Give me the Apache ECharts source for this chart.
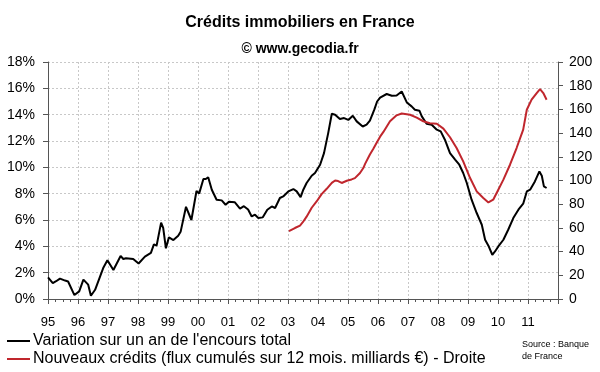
<!DOCTYPE html>
<html><head><meta charset="utf-8">
<script src="https://cdn.jsdelivr.net/npm/echarts@6/dist/echarts.min.js"></script>
<style>html,body{margin:0;padding:0;background:#fff}#c{width:600px;height:372px}</style>
</head><body><div id="c"></div>
<script>
var tickLabels = ['95','96','97','98','99','00','01','02','03','04','05','06','07','08','09','10','11'];
var blackDates = [1995.00,1995.16,1995.27,1995.40,1995.57,1995.67,1995.88,1996.04,1996.18,1996.34,1996.43,1996.57,1996.84,1996.98,1997.18,1997.42,1997.51,1997.60,1997.84,1998.02,1998.23,1998.43,1998.53,1998.62,1998.77,1998.84,1998.93,1999.03,1999.18,1999.34,1999.42,1999.60,1999.78,1999.95,2000.04,2000.18,2000.26,2000.34,2000.46,2000.62,2000.79,2000.92,2001.03,2001.23,2001.40,2001.53,2001.67,2001.79,2001.90,2002.01,2002.16,2002.31,2002.46,2002.57,2002.73,2002.84,2003.01,2003.18,2003.29,2003.42,2003.51,2003.62,2003.79,2003.90,2004.07,2004.20,2004.34,2004.46,2004.57,2004.73,2004.87,2005.01,2005.16,2005.29,2005.49,2005.62,2005.73,2005.88,2005.97,2006.07,2006.29,2006.46,2006.62,2006.79,2006.96,2007.12,2007.23,2007.38,2007.46,2007.62,2007.79,2007.96,2008.09,2008.23,2008.40,2008.57,2008.71,2008.84,2008.96,2009.12,2009.29,2009.46,2009.57,2009.68,2009.81,2009.90,2010.01,2010.18,2010.34,2010.51,2010.68,2010.84,2010.96,2011.07,2011.23,2011.38,2011.46,2011.53,2011.62];
var blackValues = [1.65,1.21,1.35,1.55,1.40,1.33,0.30,0.58,1.47,1.09,0.25,0.70,2.35,2.95,2.20,3.27,3.04,3.10,3.04,2.70,3.22,3.50,4.15,4.05,5.80,5.40,3.85,4.68,4.48,4.80,5.10,7.00,6.00,8.20,8.02,9.12,9.11,9.25,8.30,7.54,7.49,7.16,7.38,7.34,6.87,7.05,6.80,6.27,6.40,6.15,6.20,6.78,7.03,6.91,7.67,7.79,8.17,8.35,8.17,7.74,8.30,8.81,9.36,9.57,10.20,11.08,12.60,14.07,14.00,13.67,13.74,13.60,13.92,13.49,13.10,13.24,13.55,14.40,15.00,15.30,15.57,15.44,15.46,15.76,14.93,14.63,14.37,14.30,13.87,13.31,13.24,12.86,12.73,12.10,11.08,10.58,10.20,9.57,8.81,7.54,6.53,5.64,4.50,4.05,3.36,3.61,3.99,4.50,5.26,6.15,6.78,7.24,8.17,8.30,8.93,9.69,9.36,8.55,8.43];
var redDates = [2003.03,2003.23,2003.40,2003.50,2003.62,2003.79,2003.96,2004.12,2004.29,2004.46,2004.57,2004.67,2004.79,2004.96,2005.12,2005.23,2005.40,2005.51,2005.57,2005.73,2005.84,2005.96,2006.07,2006.18,2006.40,2006.62,2006.79,2006.85,2007.07,2007.29,2007.51,2007.73,2007.96,2008.18,2008.40,2008.62,2008.84,2009.07,2009.29,2009.51,2009.68,2009.84,2010.01,2010.18,2010.40,2010.62,2010.84,2010.96,2011.12,2011.29,2011.40,2011.51,2011.62];
var redValues = [57.3,59.9,62.0,65.0,69.5,77.0,82.5,88.5,93.0,98.0,100.0,99.5,97.9,99.8,100.9,102.0,106.3,110.5,114.0,122.0,126.5,132.0,137.0,141.0,150.0,155.0,156.5,157.2,155.5,153.0,150.0,148.3,147.9,143.8,136.5,127.4,116.1,102.1,90.8,85.2,81.5,83.8,92.2,100.7,113.3,127.4,142.9,159.7,168.2,173.8,177.2,173.8,168.2];
var seriesNames = ["Variation sur un an de l'encours total", "Nouveaux crédits (flux cumulés sur 12 mois. milliards €) - Droite"];

function pairs(xs, ys){ return xs.map(function(x,i){ return [x, ys[i]]; }); }

var chart = echarts.init(document.getElementById('c'), null, {renderer:'canvas'});
var font = 'Liberation Sans, Arial, sans-serif';
function leg(name, top){
  return {orient:'horizontal', left:7, top:top, itemWidth:23, itemHeight:2, icon:'rect', padding:0,
    textStyle:{fontFamily:font, fontSize:16, color:'#000', padding:[0,0,0,-2]}, data:[name]};
}
chart.setOption({
  animation:false,
  backgroundColor:'#fff',
  textStyle:{fontFamily:font},
  title:[
    {text:'Crédits immobiliers en France', left:'center', top:10, textStyle:{fontFamily:font, fontSize:16, fontWeight:'bold', color:'#000'}},
    {text:'© www.gecodia.fr', left:'center', top:37, textStyle:{fontFamily:font, fontSize:14, fontWeight:'bold', color:'#000'}},
    {text:'Source : Banque\nde France', left:517, top:334, textStyle:{fontFamily:font, fontSize:9, fontWeight:'normal', color:'#000', lineHeight:12}}
  ],
  legend:[leg(seriesNames[0], 333), leg(seriesNames[1], 351)],
  grid:{left:48, right:42, top:62, bottom:73, containLabel:false},
  xAxis:{type:'value', min:1995, max:2012, interval:1,
    axisLine:{lineStyle:{color:'#555', width:1}},
    axisTick:{show:true, length:5, lineStyle:{color:'#555'}},
    minorTick:{show:true, splitNumber:4, length:3, lineStyle:{color:'#555'}},
    axisLabel:{showMaxLabel:false, margin:17, fontSize:13, color:'#000', fontFamily:font,
      formatter:function(v){ var i=Math.round(v-1995); return tickLabels[i]||''; }},
    splitLine:{show:true, lineStyle:{color:'#c8c8c8', type:[2,2], width:1}}},
  yAxis:[
    {type:'value', min:0, max:18, interval:2, position:'left',
      axisLine:{show:true, lineStyle:{color:'#555'}},
      axisTick:{show:true, length:5, lineStyle:{color:'#555'}},
      axisLabel:{formatter:'{value}%', fontSize:14, color:'#000', margin:13, fontFamily:font},
      splitLine:{show:true, lineStyle:{color:'#c8c8c8', type:[2,2], width:1}}},
    {type:'value', min:0, max:200, interval:20, position:'right',
      axisLine:{show:true, lineStyle:{color:'#555'}},
      axisTick:{show:true, length:5, lineStyle:{color:'#555'}},
      axisLabel:{fontSize:14, color:'#000', margin:11, fontFamily:font},
      splitLine:{show:false}}
  ],
  series:[
    {name:seriesNames[0], type:'line', yAxisIndex:0, data:pairs(blackDates, blackValues), showSymbol:false, smooth:false,
      lineStyle:{color:'#000', width:2}, itemStyle:{color:'#000'}},
    {name:seriesNames[1], type:'line', yAxisIndex:1, data:pairs(redDates, redValues), showSymbol:false, smooth:false,
      lineStyle:{color:'#c0262d', width:2}, itemStyle:{color:'#c0262d'}}
  ]
});
</script></body></html>
